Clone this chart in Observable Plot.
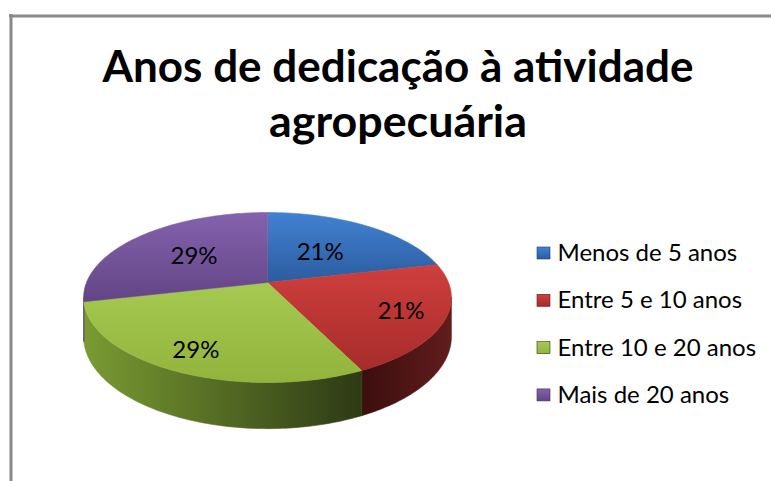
<!DOCTYPE html>
<html><head><meta charset="utf-8">
<script src="https://cdn.jsdelivr.net/npm/d3@7"></script>
<script src="https://cdn.jsdelivr.net/npm/@observablehq/plot@0.6"></script>
<style>
html,body{margin:0;padding:0;background:#fff;}
#chart svg{display:block;}
</style></head><body><div id="chart"></div>
<script>
// ---- data ----
const titleLines = ["Anos de dedicação à atividade", "agropecuária"];
const categories = ["Menos de 5 anos", "Entre 5 e 10 anos", "Entre 10 e 20 anos", "Mais de 20 anos"];
const shares = [21.4, 21.4, 28.6, 28.6];

// ---- styling / layout ----
const W = 771, H = 481;
const topColors = [["#4282d2", "#2b5c9f"], ["#cf3f3d", "#a52c2b"], ["#a6c952", "#92b43d"], ["#8462ad", "#624585"]];
const wallColors = [["#2b5c9f", "#1d3f6e"], ["#3b0e0e", "#621c1c"], ["#7a9b33", "#2d3a14"], ["#5a3f7c", "#3d2a55"]];
const pie = {cx: 267, cy: 282, k: 181, q: 82.35, p: 0.1765, h: 38};
const labelRadius = [0.5, 0.77, 0.8, 0.55];
const legend = {sx: 537, tx: 557, y0: 253, dy: 47.3};

function proj(theta, r, down) {
  const Z = r * Math.cos(theta), X = r * Math.sin(theta);
  const w = 1 + pie.p * Z;
  return {x: pie.cx + pie.k * X / w, y: pie.cy - pie.q * Z / w + (down ? pie.h / w : 0)};
}
function arc(a0, a1, r, down) {
  const n = Math.max(2, Math.ceil((a1 - a0) / (Math.PI / 180)));
  return d3.range(n + 1).map(j => proj(a0 + (a1 - a0) * j / n, r, down));
}

const total = d3.sum(shares);
let acc = 0;
const slices = categories.map((c, i) => {
  const a0 = acc / total * 2 * Math.PI; acc += shares[i];
  const a1 = acc / total * 2 * Math.PI;
  return {i, c, a0, a1, value: shares[i]};
});
const thR = Math.acos(-pie.p), thL = 2 * Math.PI - thR;

const marks = [];
// border
marks.push(Plot.ruleY([15.5], {x1: 9, x2: W, stroke: "#898989", strokeWidth: 3}));
marks.push(Plot.ruleX([10.5], {y1: 14, y2: H, stroke: "#898989", strokeWidth: 3}));
// walls
slices.forEach(s => {
  const a = Math.max(s.a0, thR), b = Math.min(s.a1, thL);
  if (b <= a) return;
  const pts = [...arc(a, b, 1, false), ...arc(a, b, 1, true).reverse()];
  marks.push(Plot.line(pts, {x: "x", y: "y", fill: `url(#wall${s.i})`, stroke: `url(#wall${s.i})`, strokeWidth: 0.6, curve: "linear-closed"}));
});
// top faces
slices.forEach(s => {
  const pts = [proj(0, 0, false), ...arc(s.a0, s.a1, 1, false)];
  marks.push(Plot.line(pts, {x: "x", y: "y", fill: `url(#top${s.i})`, stroke: `url(#top${s.i})`, strokeWidth: 0.6, curve: "linear-closed"}));
});
// percentage labels
const labels = slices.map(s => {
  const m = (s.a0 + s.a1) / 2;
  const pt = proj(m, labelRadius[s.i], false);
  return {...pt, text: Math.round(s.value) + "%"};
});
marks.push(Plot.text(labels, {x: "x", y: "y", text: "text", fontSize: 24, fill: "#000", fontFamily: "Lato"}));
// title
const titleData = titleLines.map((t, i) => ({t, x: 397.5, y: i === 0 ? 68 : 123}));
marks.push(Plot.text(titleData, {x: "x", y: "y", text: "t", fontSize: 43, fontWeight: "bold", fill: "#000", fontFamily: "Lato"}));
// legend
const legendData = categories.map((c, i) => ({c, i, y: legend.y0 + i * legend.dy}));
legendData.forEach(d => {
  marks.push(Plot.rect([d], {x1: legend.sx, x2: legend.sx + 13, y1: r => r.y - 6, y2: r => r.y + 6, fill: `url(#leg${d.i})`, stroke: wallColors[d.i][1], strokeWidth: 0.6}));
});
marks.push(Plot.text(legendData, {x: legend.tx, y: "y", text: "c", textAnchor: "start", fontSize: 24, fill: "#000", fontFamily: "Lato"}));

const svg = Plot.plot({
  width: W, height: H, margin: 0,
  x: {domain: [0, W], range: [0, W], axis: null},
  y: {domain: [0, H], range: [0, H], axis: null},
  style: {background: "white", fontFamily: "Lato"},
  marks
});

// gradients
const defs = d3.select(svg).insert("defs", ":first-child");
function grad(id, c0, c1, horiz) {
  const g = defs.append("linearGradient").attr("id", id)
    .attr("x1", 0).attr("y1", 0).attr("x2", horiz ? 1 : 0).attr("y2", horiz ? 0 : 1);
  g.append("stop").attr("offset", "0%").attr("stop-color", c0);
  g.append("stop").attr("offset", "100%").attr("stop-color", c1);
}
slices.forEach(s => {
  grad(`top${s.i}`, topColors[s.i][0], topColors[s.i][1], false);
  grad(`wall${s.i}`, wallColors[s.i][0], wallColors[s.i][1], true);
  grad(`leg${s.i}`, topColors[s.i][0], topColors[s.i][1], false);
});
// fit title line widths
d3.select(svg).selectAll("text").each(function() {
  const t = this.textContent;
  if (t === titleLines[0]) { this.setAttribute("textLength", 591); this.setAttribute("lengthAdjust", "spacingAndGlyphs"); }
  if (t === titleLines[1]) { this.setAttribute("textLength", 258); this.setAttribute("lengthAdjust", "spacingAndGlyphs"); }
});
document.getElementById("chart").appendChild(svg);
</script></body></html>
